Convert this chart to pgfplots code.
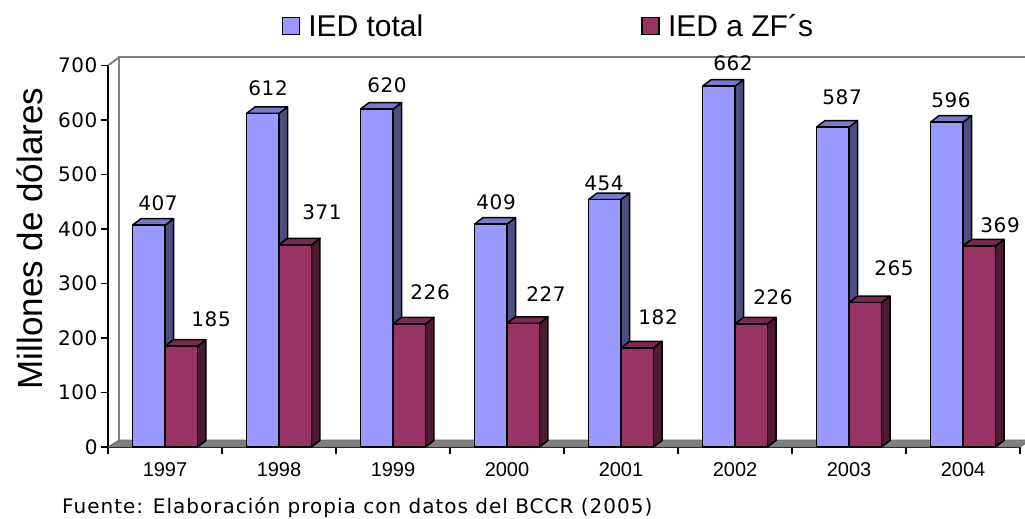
\documentclass[border=0pt]{standalone}
\usepackage{pgfplots}
\pgfplotsset{compat=1.18}
\usepackage{pgfplotstable}
\usepackage{fontspec}
\setmainfont{Liberation Sans}
\newfontfamily\numfont[LetterSpace=3]{DejaVu Sans}
\newfontfamily\srcfont[LetterSpace=5]{DejaVu Sans}
\definecolor{bluefront}{HTML}{9999FF}
\definecolor{bluetop}{HTML}{7A7ACC}
\definecolor{blueside}{HTML}{4D4D80}
\definecolor{redfront}{HTML}{993366}
\definecolor{redtop}{HTML}{7A2952}
\definecolor{redside}{HTML}{4D1A33}
\definecolor{wallgray}{HTML}{808080}

\pgfplotstableread{
x year tot zf
0 1997 407 185
1 1998 612 371
2 1999 620 226
3 2000 409 227
4 2001 454 182
5 2002 662 226
6 2003 587 265
7 2004 596 369
}\data

% label positions (x in category units, y in data units)
\pgfplotstableread{
x y lab
-0.061 447.7 407
0.404 234.9 185
0.904 658.8 612
1.377 431.2 371
1.947 664.3 620
2.325 284.4 226
2.904 449.6 409
3.342 280.8 227
3.851 484.4 454
4.325 238.6 182
4.982 704.6 662
5.333 275.3 226
5.939 642.3 587
6.395 328.5 265
6.895 636.7 596
7.325 407.4 369
}\labels

\def\bw{0.285}
\def\ddx{0.0746}
\def\ddy{11.9}

\newcommand\drawfaces[4]{% #1 column, #2 left offset, #3 top colour, #4 side colour
  \pgfplotsforeachungrouped \ii in {0,...,7}{%
    \pgfplotstablegetelem{\ii}{#1}\of\data
    \let\vv\pgfplotsretval
    \pgfmathsetmacro\xl{\ii+#2}%
    \pgfmathsetmacro\xr{\xl+\bw}%
    \pgfmathsetmacro\xlb{\xl+\ddx}%
    \pgfmathsetmacro\xrb{\xr+\ddx}%
    \pgfmathsetmacro\vt{\vv+\ddy}%
    \edef\doit{%
      \noexpand\addplot[forget plot, fill=#4, draw=black, line width=1.5bp, line join=round]
        coordinates {(\xr,0) (\xrb,\ddy) (\xrb,\vt) (\xr,\vv) (\xr,0)};
      \noexpand\addplot[forget plot, fill=#3, draw=black, line width=1.5bp, line join=round]
        coordinates {(\xl,\vv) (\xr,\vv) (\xrb,\vt) (\xlb,\vt) (\xl,\vv)};
    }\doit
  }%
}

\begin{document}
\begin{tikzpicture}
\useasboundingbox (0,0) rectangle (1025bp,519bp);
\begin{axis}[
  at={(108bp,72bp)}, anchor=south west,
  scale only axis, width=912bp, height=381.5bp,
  xmin=-0.5, xmax=7.5, ymin=0, ymax=700,
  clip=false,
  axis x line*=bottom, axis y line*=left,
  axis line style={line width=1.5bp, black, -},
  tick align=outside,
  xtick={0,...,7},
  xticklabels={1997,1998,1999,2000,2001,2002,2003,2004},
  major x tick style={draw=none},
  minor xtick={-0.5,0.5,...,7.5},
  minor tick length=7bp,
  major tick length=7bp,
  tick style={line width=1.5bp, black},
  ytick={0,100,...,700},
  /pgf/number format/assume math mode=true,
  yticklabel style={font=\numfont\fontsize{20bp}{24bp}\selectfont},
  xticklabel style={font=\fontsize{20bp}{24bp}\selectfont, yshift=-5bp},
  ylabel={Millones de dólares},
  ylabel style={at={(axis description cs:-0.0855,0.5465)}, anchor=center, font=\fontsize{35bp}{40bp}\selectfont},
  legend columns=2,
  legend style={at={(axis description cs:0.1901,1.1035)}, anchor=west, draw=none, fill=none,
    inner sep=0pt, font=\fontsize{30bp}{34bp}\selectfont,
    nodes={inner xsep=8.5bp},
    /tikz/every even column/.append style={column sep=209.5bp}},
]
% floor
\addplot[forget plot, fill=wallgray, draw=black!60, line width=0.8bp]
  coordinates {(-0.5,0) (7.5,0) (7.5965,12.8) (-0.4035,12.8) (-0.5,0)};
% back wall edges
\addplot[forget plot, draw=wallgray, line width=2bp]
  coordinates {(-0.4035,12.8) (-0.4035,714.7) (7.7,714.7)};
\addplot[forget plot, draw=wallgray, line width=2bp]
  coordinates {(-0.5,700) (-0.4035,714.7)};
% IED total
\drawfaces{tot}{-0.285}{bluetop}{blueside}
\addplot[ybar, bar width=0.285, bar shift=-0.1425, fill=bluefront, draw=black, line width=1.5bp,
  legend image code/.code={\draw[fill=bluefront, draw=black, line width=1.2bp] (0bp,-8.5bp) rectangle (17bp,8.5bp);}]
  table[x=x, y=tot]{\data};
\addlegendentry{IED total}
% IED a ZF's
\drawfaces{zf}{0}{redtop}{redside}
\addplot[ybar, bar width=0.285, bar shift=0.1425, fill=redfront, draw=black, line width=1.5bp,
  legend image code/.code={\draw[fill=redfront, draw=black, line width=1.2bp] (0bp,-8.5bp) rectangle (17bp,8.5bp);}]
  table[x=x, y=zf]{\data};
\addlegendentry{IED a ZF´s}
% data labels
\addplot[forget plot, draw=none, mark=none, nodes near coords, point meta=explicit symbolic,
  nodes near coords style={font=\numfont\fontsize{20bp}{24bp}\selectfont, anchor=center, inner sep=0pt}]
  table[x=x, y=y, meta=lab]{\labels};
\node[anchor=west, inner sep=0pt, font=\srcfont\fontsize{20bp}{24bp}\selectfont]
  at (axis description cs:-0.0504,-0.16) {Fuente: Elaboración propia con datos del BCCR (2005)};
\end{axis}
\end{tikzpicture}
\end{document}
